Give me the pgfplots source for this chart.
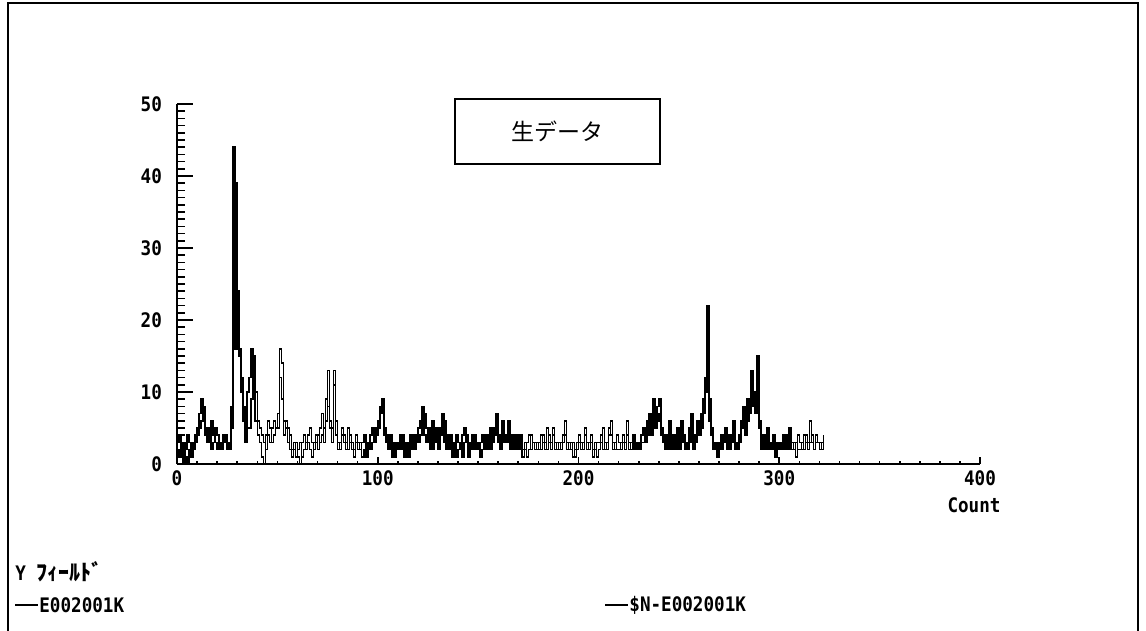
\documentclass[border=0pt]{standalone}
\usepackage{pgfplots}
\pgfplotsset{compat=1.18}
\usepackage{fontspec}
\setmonofont[FakeStretch=0.88]{DejaVu Sans Mono}
\newfontfamily\cjk{Noto Sans CJK JP}
\newcommand\lbl{\ttfamily\bfseries\fontsize{10}{11}\selectfont}

\pgfplotsset{
  base/.style={
    scale only axis, width=401.5pt, height=180pt,
    xmin=0, xmax=400, ymin=0, ymax=50,
    at={(88.5pt,-232pt)}, anchor=south west,
    axis line style={line width=1pt},
    every tick/.style={black,line width=0.8pt},
    ticklabel style={font=\lbl},
    /pgf/number format/assume math mode=true,
  }
}

\begin{document}
\begin{tikzpicture}
\begin{scope}[x=0.5pt,y=-0.5pt]
  \useasboundingbox (0,0) rectangle (1146,631);
  % outer frame
  \draw[line width=1pt] (8,631) -- (8,3) -- (1138,3) -- (1138,631);
  % title box
  \draw[line width=0.8pt] (455,99) rectangle (660,164);
  \node at (557,131) {\cjk\fontsize{11.5}{12}\selectfont 生データ};
  % axis caption and legend
  \node[inner sep=0pt] at (974,505) {\lbl Count};
  \node[anchor=west, inner sep=0pt] at (15,572) {\lbl Y {\cjk\fontsize{11}{11}\selectfont ﾌｨｰﾙﾄﾞ}};
  \draw[line width=1pt] (15,605) -- (38,605);
  \node[anchor=west, inner sep=0pt] at (39,605) {\lbl E002001K};
  \draw[line width=1pt] (605,605) -- (628,605);
  \node[anchor=west, inner sep=0pt] at (629,605) {\lbl \$N-E002001K};
\end{scope}

% data and x axis
\begin{axis}[base,
  axis x line=bottom, axis y line=none,
  x axis line style={-},
  tick align=inside,
  xtick={0,100,200,300,400}, minor x tick num=9,
  major tick length=3.5pt, minor tick length=1.5pt,
]
\addplot[const plot, black, line width=0.8pt] coordinates {
(0,3)(1,4)(2,2)(3,3)(4,1)(5,0)(6,2)(7,3)(8,2)(9,4)
(10,5)(11,7)(12,9)(13,6)(14,4)(15,5)(16,3)(17,6)(18,4)(19,3)
(20,2)(21,3)(22,2)(23,4)(24,3)(25,2)(26,3)(27,5)(28,44)(29,24)
(30,16)(31,16)(32,12)(33,6)(34,3)(35,10)(36,12)(37,16)(38,14)(39,6)
(40,4)(41,3)(42,1)(43,0)(44,4)(45,6)(46,5)(47,3)(48,4)(49,5)
(50,7)(51,16)(52,14)(53,4)(54,6)(55,5)(56,2)(57,1)(58,2)(59,3)
(60,1)(61,0)(62,3)(63,4)(64,2)(65,3)(66,2)(67,1)(68,3)(69,4)
(70,2)(71,5)(72,7)(73,3)(74,6)(75,13)(76,5)(77,3)(78,13)(79,4)
(80,3)(81,2)(82,4)(83,3)(84,2)(85,5)(86,3)(87,2)(88,1)(89,3)
(90,2)(91,3)(92,1)(93,2)(94,3)(95,2)(96,4)(97,5)(98,3)(99,4)
(100,6)(101,7)(102,9)(103,5)(104,4)(105,3)(106,2)(107,3)(108,1)(109,2)
(110,3)(111,2)(112,4)(113,3)(114,2)(115,1)(116,3)(117,2)(118,4)(119,3)
(120,5)(121,6)(122,8)(123,4)(124,3)(125,5)(126,2)(127,6)(128,3)(129,4)
(130,2)(131,5)(132,7)(133,3)(134,4)(135,2)(136,3)(137,1)(138,2)(139,4)
(140,3)(141,2)(142,4)(143,5)(144,3)(145,1)(146,2)(147,3)(148,4)(149,2)
(150,3)(151,1)(152,2)(153,4)(154,3)(155,2)(156,5)(157,3)(158,4)(159,7)
(160,3)(161,2)(162,6)(163,4)(164,3)(165,5)(166,2)(167,4)(168,3)(169,2)
(170,3)(171,4)(172,2)(173,3)(174,1)(175,2)(176,4)(177,3)(178,2)(179,3)
(180,2)(181,4)(182,3)(183,2)(184,5)(185,3)(186,2)(187,4)(188,3)(189,2)
(190,3)(191,2)(192,4)(193,6)(194,3)(195,2)(196,3)(197,1)(198,2)(199,3)
(200,4)(201,2)(202,3)(203,5)(204,2)(205,3)(206,4)(207,2)(208,3)(209,1)
(210,2)(211,3)(212,5)(213,2)(214,3)(215,4)(216,6)(217,3)(218,2)(219,4)
(220,3)(221,2)(222,4)(223,3)(224,6)(225,2)(226,3)(227,4)(228,3)(229,2)
(230,3)(231,4)(232,5)(233,3)(234,6)(235,7)(236,4)(237,9)(238,5)(239,8)
(240,9)(241,5)(242,3)(243,4)(244,2)(245,6)(246,3)(247,4)(248,2)(249,5)
(250,3)(251,6)(252,4)(253,2)(254,3)(255,5)(256,7)(257,4)(258,3)(259,6)
(260,5)(261,7)(262,9)(263,12)(264,22)(265,9)(266,4)(267,3)(268,2)(269,1)
(270,2)(271,4)(272,3)(273,5)(274,2)(275,4)(276,3)(277,6)(278,2)(279,3)
(280,4)(281,6)(282,8)(283,5)(284,9)(285,7)(286,13)(287,8)(288,10)(289,15)
(290,6)(291,4)(292,3)(293,2)(294,5)(295,3)(296,2)(297,4)(298,1)(299,3)
(300,2)(301,3)(302,4)(303,2)(304,3)(305,5)(306,2)(307,3)(308,1)(309,4)
(310,3)(311,2)(312,4)(313,3)(314,2)(315,6)(316,3)(317,2)(318,4)(319,3)
(320,2)(321,3)(322,4)
};
\addplot[const plot, black, line width=0.8pt] coordinates {
(0,2)(1,1)(2,3)(3,0)(4,2)(5,4)(6,3)(7,1)(8,2)(9,3)
(10,4)(11,5)(12,6)(13,8)(14,5)(15,3)(16,4)(17,2)(18,3)(19,5)
(20,4)(21,3)(22,2)(23,3)(24,4)(25,3)(26,2)(27,8)(28,16)(29,39)
(30,24)(31,15)(32,10)(33,8)(34,6)(35,5)(36,5)(37,9)(38,15)(39,10)
(40,6)(41,5)(42,4)(43,3)(44,2)(45,4)(46,3)(47,5)(48,6)(49,5)
(50,5)(51,12)(52,9)(53,6)(54,5)(55,3)(56,4)(57,2)(58,3)(59,1)
(60,2)(61,3)(62,1)(63,2)(64,3)(65,4)(66,5)(67,3)(68,2)(69,3)
(70,4)(71,3)(72,4)(73,5)(74,9)(75,8)(76,6)(77,5)(78,11)(79,6)
(80,2)(81,3)(82,5)(83,4)(84,3)(85,2)(86,4)(87,3)(88,2)(89,4)
(90,3)(91,2)(92,3)(93,4)(94,1)(95,3)(96,2)(97,3)(98,4)(99,5)
(100,5)(101,8)(102,7)(103,4)(104,3)(105,2)(106,4)(107,1)(108,3)(109,2)
(110,2)(111,4)(112,3)(113,1)(114,3)(115,2)(116,4)(117,3)(118,2)(119,4)
(120,3)(121,4)(122,6)(123,7)(124,5)(125,4)(126,3)(127,2)(128,4)(129,5)
(130,3)(131,4)(132,5)(133,6)(134,2)(135,3)(136,4)(137,2)(138,3)(139,1)
(140,2)(141,3)(142,1)(143,3)(144,4)(145,2)(146,3)(147,4)(148,2)(149,3)
(150,2)(151,3)(152,4)(153,2)(154,3)(155,4)(156,2)(157,3)(158,5)(159,6)
(160,4)(161,3)(162,5)(163,3)(164,4)(165,6)(166,3)(167,2)(168,3)(169,4)
(170,2)(171,3)(172,1)(173,2)(174,3)(175,4)(176,2)(177,3)(178,3)(179,2)
(180,3)(181,2)(182,4)(183,3)(184,2)(185,4)(186,3)(187,5)(188,2)(189,3)
(190,2)(191,3)(192,3)(193,4)(194,2)(195,3)(196,2)(197,3)(198,1)(199,2)
(200,3)(201,3)(202,2)(203,4)(204,3)(205,2)(206,3)(207,1)(208,2)(209,3)
(210,3)(211,4)(212,2)(213,3)(214,2)(215,5)(216,4)(217,2)(218,3)(219,2)
(220,2)(221,3)(222,3)(223,2)(224,4)(225,3)(226,2)(227,3)(228,2)(229,3)
(230,2)(231,3)(232,3)(233,5)(234,4)(235,6)(236,5)(237,7)(238,8)(239,6)
(240,7)(241,4)(242,3)(243,2)(244,3)(245,4)(246,2)(247,3)(248,3)(249,4)
(250,2)(251,4)(252,3)(253,3)(254,2)(255,3)(256,5)(257,2)(258,4)(259,5)
(260,4)(261,5)(262,7)(263,10)(264,15)(265,6)(266,5)(267,2)(268,3)(269,2)
(270,3)(271,2)(272,4)(273,3)(274,3)(275,2)(276,4)(277,3)(278,3)(279,2)
(280,3)(281,5)(282,7)(283,4)(284,6)(285,8)(286,12)(287,9)(288,7)(289,11)
(290,5)(291,2)(292,4)(293,3)(294,3)(295,2)(296,3)(297,2)(298,3)(299,2)
(300,3)(301,2)(302,3)(303,4)(304,2)(305,3)(306,3)(307,2)(308,3)(309,2)
(310,2)(311,3)(312,2)(313,4)(314,3)(315,3)(316,4)(317,2)(318,3)(319,3)
(320,3)(321,2)(322,3)
};
\end{axis}

% y axis with its own tick lengths
\begin{axis}[base,
  axis x line=none, axis y line=left,
  y axis line style={-},
  tick align=inside,
  ytick={0,10,20,30,40,50}, minor y tick num=9,
  major tick length=8pt, minor tick length=4pt,
  yticklabel style={xshift=-4pt},
]
\end{axis}
\end{tikzpicture}
\end{document}
